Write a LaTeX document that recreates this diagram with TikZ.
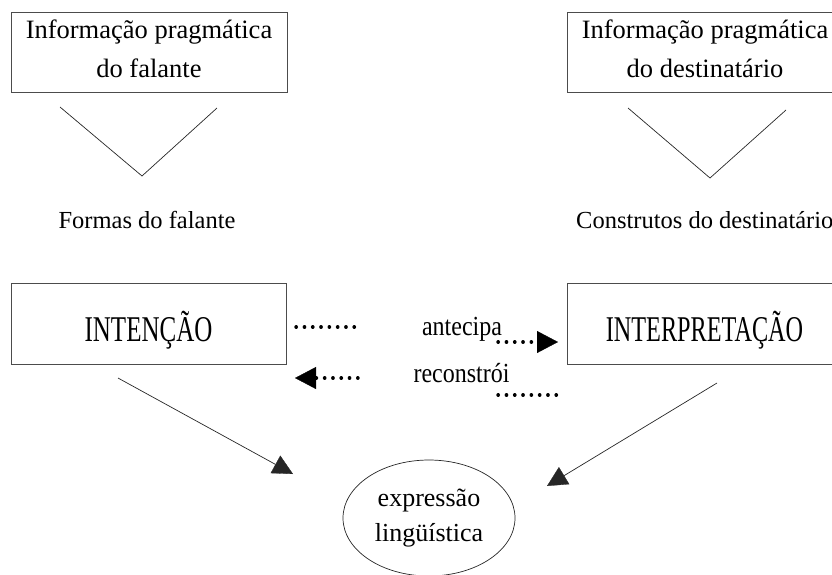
\documentclass[tikz,border=0pt]{standalone}
\usepackage{fontspec}
\setmainfont{Liberation Serif}
\usetikzlibrary{arrows.meta,shapes.geometric}
\begin{document}
\begin{tikzpicture}[x=1pt,y=-1pt,
  box/.style={draw=black!70, line width=0.9pt, inner sep=0pt, align=center},
  topbox/.style={box, minimum width=276pt, minimum height=80pt, font=\fontsize{26.5}{39}\selectfont},
  midbox/.style={box, minimum width=275pt, minimum height=81pt, font=\fontsize{25}{30}\selectfont, text height=36pt, text depth=0pt},
  caption/.style={font=\fontsize{24.5}{28}\selectfont, inner sep=0pt},
  midlabel/.style={font=\fontsize{24}{28}\selectfont, inner sep=0pt},
  vline/.style={draw=black!85, line width=0.7pt},
  solidarrow/.style={draw=black!85, line width=0.7pt, -{Triangle[length=20pt,width=20pt,line width=0.3pt]}},
  dots/.style={draw=black, line width=3.4pt, line cap=round, dash pattern=on 0.3pt off 8pt},
  dotarrow/.style={dots, -{Triangle[length=21pt,width=22pt,line width=0.3pt]}}
]
\useasboundingbox (0,0) rectangle (832,574);

% top boxes
\node[topbox] (ipf) at (149,52) {Informação pragmática\\do falante\rule[-6pt]{0pt}{6pt}};
\node[topbox] (ipd) at (705,52) {Informação pragmática\\do destinatário\rule[-6pt]{0pt}{6pt}};

% V shapes
\coordinate (vla) at (60,107);
\coordinate (vlb) at (142,176);
\coordinate (vlc) at (217,108);
\coordinate (vra) at (628,108);
\coordinate (vrb) at (710,178);
\coordinate (vrc) at (786,110);
\draw[vline] (vla) -- (vlb) -- (vlc);
\draw[vline] (vra) -- (vrb) -- (vrc);

% captions
\node[caption, anchor=base] (ff) at (147,228) {Formas do falante};
\node[caption, anchor=base west] (cd) at (576,228) {Construtos do destinatário};

% middle boxes
\node[midbox] (int) at (148.5,323.5) {\scalebox{1}[1.45]{INTENÇÃO}};
\node[midbox] (itp) at (704.5,323.5) {\scalebox{0.97}[1.45]{INTERPRETAÇÃO}};

% middle labels
\node[midlabel, anchor=base] (ant) at (462,335) {\scalebox{1}[1.15]{antecipa}};
\node[midlabel, anchor=base] (rec) at (461.5,382) {\scalebox{1}[1.15]{reconstrói}};

% dotted connectors
\coordinate (d1a) at (296,327);
\coordinate (d1b) at (355,327);
\draw[dots] (d1a) -- (d1b);
\coordinate (d2a) at (498,342);
\coordinate (d2b) at (558,342);
\draw[dotarrow] (d2a) -- (d2b);
\coordinate (d3a) at (358,378);
\coordinate (d3b) at (295,378);
\draw[dotarrow] (d3a) -- (d3b);
\coordinate (d4a) at (498,395);
\coordinate (d4b) at (557,395);
\draw[dots] (d4a) -- (d4b);

% ellipse
\node[draw=black!85, line width=0.7pt, ellipse, minimum width=172pt, minimum height=116pt, inner sep=0pt, align=center, font=\fontsize{26}{35}\selectfont] (expr) at (429,518) {expressão\\lingüística};

% solid arrows
\coordinate (ls) at (118,378);
\coordinate (lt) at (293,474);
\coordinate (rs) at (717,383);
\coordinate (rt) at (547,486);
\draw[solidarrow] (ls) -- (lt);
\draw[solidarrow] (rs) -- (rt);
\end{tikzpicture}
\end{document}
